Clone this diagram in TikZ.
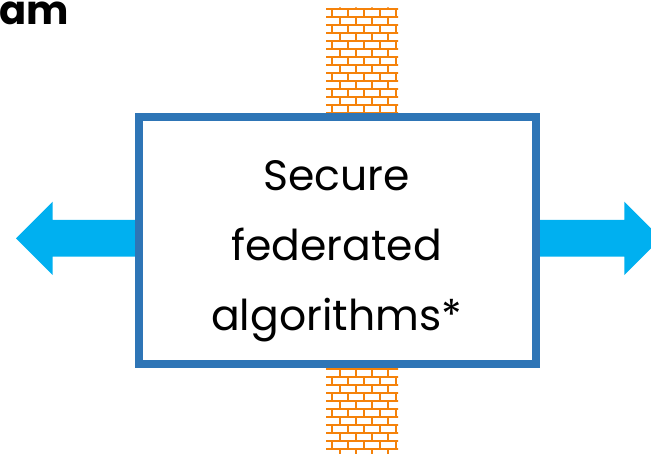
\documentclass[tikz,border=0pt]{standalone}
\usepackage{fontspec}
\setmainfont{Poppins}
\definecolor{boxblue}{HTML}{2E75B6}
\definecolor{arrowblue}{HTML}{00B0F0}
\definecolor{brick}{RGB}{245,130,10}
\tikzset{
  mainbox/.style={draw=boxblue, line width=7.5pt, fill=white, rectangle, minimum width=397pt, minimum height=247pt, inner sep=0pt},
  bigtxt/.style={font=\fontsize{42.5}{50}\selectfont, inner sep=0pt, anchor=base},
  brickline/.style={draw=brick, line width=2.2pt},
  fatarrow/.style={fill=arrowblue, draw=none},
}
\begin{document}
\begin{tikzpicture}[x=1pt,y=-1pt]
\useasboundingbox (0,0) rectangle (651,454);
\fill[white] (0,0) rectangle (651,454);
% brick walls
\begin{scope}
\clip (326,7.5) rectangle (398,113) (326,367) rectangle (398,454);
\foreach \k in {0,...,56}{
  \pgfmathsetmacro\ya{1.3+8*\k}
  \pgfmathsetmacro\yb{9.3+8*\k}
  \pgfmathtruncatemacro\xo{324-8*mod(\k,2)}
  \draw[brickline] (320,\yb) -- (404,\yb);
  \foreach \j in {0,...,5}{
    \draw[brickline] (\xo+16*\j,\ya) -- (\xo+16*\j,\yb);
  }
}
\end{scope}
% arrows
\fill[fatarrow] (140,220) -- (52.7,220) -- (52.7,201.7) -- (16,238.3) -- (52.7,275) -- (52.7,256.7) -- (140,256.7) -- cycle;
\fill[fatarrow] (535,220) -- (624.3,220) -- (624.3,201.7) -- (661,238.3) -- (624.3,275) -- (624.3,256.7) -- (535,256.7) -- cycle;
% box
\node[mainbox] (box) at (337.5,240.5) {};
\node[bigtxt] (t1) at (336.5,191) {Secure};
\node[bigtxt] (t2) at (336.5,261) {federated};
\node[bigtxt] (t3) at (336.5,331) {algorithms*};
% title fragment
\node[font=\fontsize{40}{44}\selectfont\bfseries, inner sep=0pt, anchor=base west] (title) at (-1,25) {am};
\end{tikzpicture}
\end{document}
